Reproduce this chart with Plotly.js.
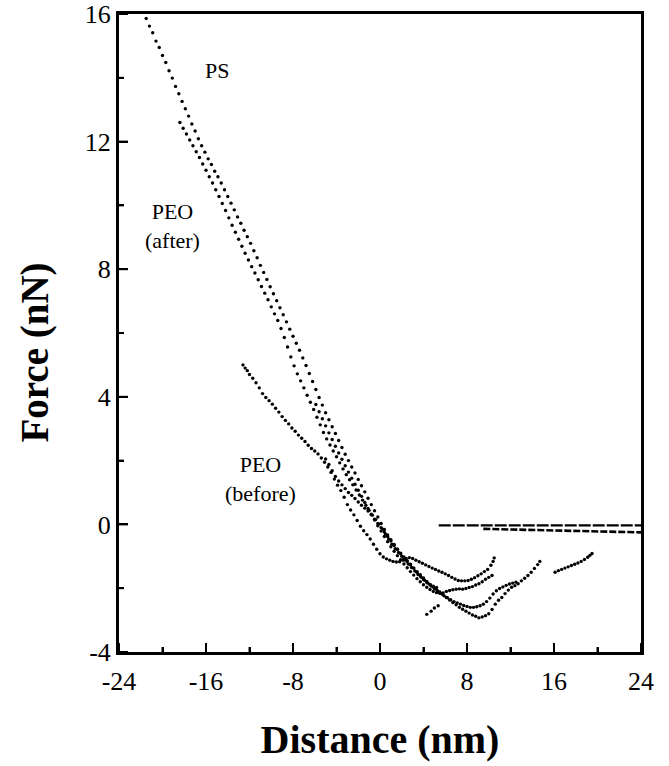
<!DOCTYPE html>
<html>
<head>
<meta charset="utf-8">
<script src="https://cdn.plot.ly/plotly-3.0.1.min.js"></script>
<style>html,body{margin:0;padding:0;background:#fff;}#chart{width:669px;height:766px;}</style>
</head>
<body>
<div id="chart"></div>
<script>
// ---- data ----
var xTickVals = [-24, -16, -8, 0, 8, 16, 24];
var xTickText = ["-24", "-16", "-8", "0", "8", "16", "24"];
var xMinorVals = [-20, -12, -4, 4, 12, 20];
var yTickVals = [-4, 0, 4, 8, 12, 16];
var yTickText = ["-4", "0", "4", "8", "12", "16"];
var yMinorVals = [-2, 2, 6, 10, 14];

// PS
var psX = [-21.5,-21.2,-20.9,-20.6,-20.3,-20.0,-19.7,-19.4,-19.1,-18.8,-18.5,-18.2,-17.9,-17.6,-17.3,-17.0,-16.7,-16.4,-16.1,-15.8,-15.5,-15.2,-14.9,-14.6,-14.3,-14.0,-13.7,-13.4,-13.1,-12.8,-12.5,-12.2,-11.9,-11.6,-11.3,-11.0,-10.7,-10.4,-10.1,-9.8,-9.5,-9.2,-8.9,-8.6,-8.3,-8.0,-7.7,-7.4,-7.1,-6.8,-6.5,-6.2,-5.9,-5.6,-5.3,-5.0,-4.7,-4.4,-4.1,-3.8,-3.5,-3.2,-2.9,-2.6,-2.3,-2.0,-1.7,-1.4,-1.1,-0.8,-0.5,-0.2,0.1,0.4,0.7,1.0,1.3,1.6,1.9,2.2,2.5,2.8,3.1,3.4,3.7,4.0,4.3,4.6,4.9,5.2,5.5,5.8,6.1,6.4,6.7,7.0,7.3,7.6,7.9,8.2,8.5,8.8,9.1,9.4,9.7,10.0,10.3,10.6,10.9,11.2,11.5,11.8,12.1,12.4,12.7,13.0,13.3,13.6,13.9,14.2,14.5,14.7];
var psY = [15.86,15.62,15.41,15.15,14.95,14.70,14.48,14.22,13.99,13.73,13.50,13.26,13.03,12.80,12.55,12.33,12.09,11.87,11.67,11.46,11.28,11.07,10.90,10.70,10.49,10.28,10.07,9.86,9.64,9.44,9.22,9.02,8.81,8.58,8.36,8.12,7.90,7.68,7.45,7.23,7.01,6.79,6.57,6.35,6.12,5.90,5.68,5.46,5.22,4.98,4.73,4.48,4.23,3.98,3.74,3.50,3.28,3.06,2.85,2.63,2.41,2.20,2.00,1.80,1.61,1.41,1.21,1.02,0.82,0.62,0.43,0.23,0.03,-0.16,-0.33,-0.48,-0.63,-0.78,-0.92,-1.06,-1.17,-1.27,-1.37,-1.48,-1.58,-1.68,-1.79,-1.88,-1.96,-2.04,-2.12,-2.21,-2.29,-2.37,-2.45,-2.52,-2.60,-2.66,-2.72,-2.78,-2.84,-2.88,-2.93,-2.90,-2.86,-2.80,-2.67,-2.50,-2.38,-2.29,-2.17,-2.06,-1.97,-1.92,-1.86,-1.77,-1.69,-1.60,-1.50,-1.38,-1.26,-1.16];

// PEO (after)
var peoAfterX = [-18.4,-18.1,-17.8,-17.5,-17.2,-16.9,-16.6,-16.3,-16.0,-15.7,-15.4,-15.1,-14.8,-14.5,-14.2,-13.9,-13.6,-13.3,-13.0,-12.7,-12.4,-12.1,-11.8,-11.5,-11.2,-10.9,-10.6,-10.3,-10.0,-9.7,-9.4,-9.1,-8.8,-8.5,-8.2,-7.9,-7.6,-7.3,-7.0,-6.7,-6.4,-6.1,-5.8,-5.5,-5.2,-4.9,-4.6,-4.3,-4.0,-3.7,-3.4,-3.1,-2.8,-2.5,-2.2,-1.9,-1.6,-1.3,-1.0,-0.7,-0.4,-0.1,0.2,0.5,0.8,1.1,1.4,1.7,2.0,2.3,2.6,2.9,3.2,3.5,3.8,4.1,4.4,4.7,5.0,5.3,5.6,5.9,6.2,6.5,6.8,7.1,7.4,7.7,8.0,8.3,8.6,8.9,9.2,9.5,9.8,10.1,10.4,10.7,11.0,11.3,11.6,11.9,12.2,12.5,16.1,16.4,16.7,17.0,17.3,17.6,17.9,18.2,18.5,18.8,19.1,19.3,19.5];
var peoAfterY = [12.60,12.42,12.24,12.05,11.87,11.68,11.50,11.30,11.10,10.90,10.70,10.49,10.28,10.06,9.84,9.61,9.38,9.16,8.94,8.72,8.50,8.29,8.08,7.88,7.67,7.46,7.25,7.04,6.82,6.60,6.39,6.14,5.86,5.56,5.25,4.97,4.72,4.50,4.28,4.05,3.83,3.60,3.36,3.12,2.88,2.68,2.49,2.30,2.12,1.93,1.74,1.56,1.40,1.24,1.08,0.92,0.76,0.60,0.44,0.29,0.15,0.01,-0.14,-0.30,-0.46,-0.62,-0.76,-0.88,-1.00,-1.12,-1.24,-1.35,-1.46,-1.57,-1.66,-1.75,-1.84,-1.93,-2.01,-2.09,-2.17,-2.24,-2.30,-2.36,-2.42,-2.46,-2.50,-2.54,-2.57,-2.60,-2.60,-2.58,-2.55,-2.50,-2.42,-2.31,-2.18,-2.08,-2.01,-1.96,-1.91,-1.87,-1.84,-1.81,-1.50,-1.45,-1.41,-1.37,-1.33,-1.29,-1.25,-1.21,-1.16,-1.10,-1.03,-0.97,-0.91];

// a further run in the steep band
var runThreeX = [-5.9,-5.6,-5.3,-5.0,-4.7,-4.4,-4.1,-3.8,-3.5,-3.2,-2.9,-2.6,-2.3,-2.0,-1.7,-1.4,-1.1,-0.8,-0.5,-0.2,0.1,0.4,0.7,1.0,1.3,1.6,1.9,2.2,2.5,2.8,3.1,3.4,3.7,4.0,4.3,4.6,4.9,5.2,5.5,5.8,6.1,6.4,6.7,7.0,7.3,7.6,7.9,8.2,8.5,8.8,9.1,9.4,9.7,10.0,10.3];
var runThreeY = [3.76,3.53,3.31,3.09,2.87,2.66,2.45,2.24,2.04,1.84,1.64,1.45,1.26,1.07,0.88,0.69,0.50,0.32,0.14,-0.04,-0.21,-0.38,-0.54,-0.70,-0.84,-0.98,-1.11,-1.24,-1.36,-1.48,-1.59,-1.70,-1.80,-1.89,-1.97,-2.04,-2.10,-2.14,-2.16,-2.15,-2.10,-2.07,-2.05,-2.03,-2.02,-2.03,-2.01,-1.98,-1.95,-1.90,-1.86,-1.80,-1.72,-1.66,-1.60];

// PEO (before)
var peoBeforeX = [-12.6,-12.4,-12.2,-12.0,-11.7,-11.4,-11.1,-10.8,-10.5,-10.2,-9.9,-9.6,-9.3,-9.0,-8.7,-8.4,-8.1,-7.8,-7.5,-7.2,-6.9,-6.6,-6.3,-6.0,-5.7,-5.4,-5.1,-4.8,-4.5,-4.2,-3.9,-3.6,-3.3,-3.0,-2.7,-2.4,-2.1,-1.8,-1.5,-1.2,-0.9,-0.6,-0.3,0.0,0.3,0.6,0.9,1.2,1.5,1.8,2.1,2.4,2.7,3.0,3.3,3.6,3.9,4.2,4.5,4.8,5.1,5.4,5.7,6.0,6.3,6.6,6.9,7.2,7.5,7.8,8.1,8.4,8.7,9.0,9.3,9.6,9.9,10.2,10.4,10.5];
var peoBeforeY = [5.00,4.90,4.82,4.70,4.58,4.44,4.28,4.10,3.98,3.88,3.77,3.64,3.52,3.38,3.26,3.15,3.02,2.92,2.80,2.70,2.60,2.48,2.38,2.30,2.21,2.08,1.95,1.80,1.63,1.42,1.23,1.06,0.85,0.62,0.45,0.30,0.12,-0.06,-0.20,-0.32,-0.46,-0.62,-0.78,-0.92,-1.02,-1.08,-1.12,-1.16,-1.18,-1.17,-1.12,-1.07,-1.04,-1.07,-1.12,-1.17,-1.22,-1.27,-1.32,-1.37,-1.41,-1.46,-1.50,-1.55,-1.60,-1.66,-1.71,-1.76,-1.77,-1.77,-1.76,-1.72,-1.67,-1.61,-1.55,-1.48,-1.41,-1.28,-1.16,-1.05];
var peoBeforeTwoX = [-5.0,-4.7,-4.4,-4.1,-3.8,-3.5,-3.2,-2.9,-2.6,-2.3,-2.0,-1.7,-1.4,-1.1,-0.8,-0.5,-0.2,0.1,0.4,0.7,1.0,1.3,1.6,1.9,2.2,2.5,2.8,3.1,3.4,3.7,4.0,4.3,4.6,4.9,5.2];
var peoBeforeTwoY = [2.05,1.88,1.68,1.50,1.36,1.24,1.12,1.00,0.91,0.81,0.70,0.60,0.51,0.42,0.30,0.16,0.03,-0.10,-0.24,-0.38,-0.52,-0.66,-0.78,-0.90,-1.02,-1.14,-1.25,-1.37,-1.50,-1.62,-1.73,-1.82,-1.89,-1.94,-1.98];

// stray points below the minimum
var tailX = [4.3, 4.7, 5.0, 5.35];
var tailY = [-2.82, -2.72, -2.62, -2.55];

// baselines far from the surface
var baseOneX = [5.4, 24];
var baseOneY = [-0.03, -0.03];
var baseTwoX = [9.5, 24];
var baseTwoY = [-0.14, -0.25];

// ---- chart ----
var SERIF = "Liberation Serif, Times New Roman, serif";
function dots(x, y, name) {
  return {x: x, y: y, name: name, type: "scatter", mode: "markers",
          marker: {color: "#000", size: 3.4, symbol: "circle", line: {width: 0}},
          hoverinfo: "x+y", showlegend: false};
}
var traces = [
  dots(psX, psY, "PS"),
  dots(peoAfterX, peoAfterY, "PEO (after)"),
  dots(runThreeX, runThreeY, "run"),
  dots(peoBeforeX, peoBeforeY, "PEO (before)"),
  dots(peoBeforeTwoX, peoBeforeTwoY, "PEO (before) 2"),
  dots(tailX, tailY, "tail"),
  {x: baseOneX, y: baseOneY, type: "scatter", mode: "lines", showlegend: false,
   line: {color: "#000", width: 2.2, dash: "12px,2px"}},
  {x: baseTwoX, y: baseTwoY, type: "scatter", mode: "lines", showlegend: false,
   line: {color: "#000", width: 2.6, dash: "7px,2px"}}
];

// inward tick marks along the bottom and left edges, placed through the axes
var tickShapes = [];
function xTick(v, len) {
  tickShapes.push({type: "line", xref: "x", yref: "y domain", x0: v, x1: v,
    ysizemode: "pixel", yanchor: 0, y0: 0, y1: len, layer: "above",
    line: {color: "#000", width: 2}});
}
function yTick(v, len) {
  tickShapes.push({type: "line", yref: "y", xref: "x domain", y0: v, y1: v,
    xsizemode: "pixel", xanchor: 0, x0: 0, x1: len, layer: "above",
    line: {color: "#000", width: 2}});
}
xTickVals.forEach(function (v) { xTick(v, 9); });
xMinorVals.forEach(function (v) { xTick(v, 5); });
yTickVals.forEach(function (v) { yTick(v, 9); });
yMinorVals.forEach(function (v) { yTick(v, 5); });

var tickFont = {family: SERIF, size: 26, color: "#000"};
var layout = {
  width: 669, height: 766,
  margin: {l: 119, r: 28, t: 14, b: 114},
  paper_bgcolor: "#fff", plot_bgcolor: "#fff",
  font: {family: SERIF, color: "#000"},
  showlegend: false,
  xaxis: {
    range: [-24, 24], tickmode: "array", tickvals: xTickVals, ticktext: xTickText,
    ticks: "inside", ticklen: 9, tickwidth: 2, tickcolor: "#000",
    minor: {dtick: 4, tick0: 0, ticks: "inside", ticklen: 5, tickwidth: 2, tickcolor: "#000"},
    showline: true, linewidth: 3, linecolor: "#000", mirror: true,
    showgrid: false, zeroline: false,
    tickfont: tickFont, ticklabelstandoff: 4,
    automargin: false,
    title: {text: "<b>Distance (nm)</b>", font: {family: SERIF, size: 40, color: "#000"}, standoff: 30}
  },
  yaxis: {
    range: [-4, 16], tickmode: "array", tickvals: yTickVals, ticktext: yTickText,
    ticks: "inside", ticklen: 9, tickwidth: 2, tickcolor: "#000",
    minor: {dtick: 2, tick0: 0, ticks: "inside", ticklen: 5, tickwidth: 2, tickcolor: "#000"},
    showline: true, linewidth: 3, linecolor: "#000", mirror: true,
    showgrid: false, zeroline: false,
    tickfont: tickFont,
    automargin: false,
    title: {text: "<b>Force (nN)</b>&nbsp;&nbsp;&nbsp;&nbsp;", font: {family: SERIF, size: 39, color: "#000"}, standoff: 25}
  },
  shapes: tickShapes,
  annotations: [
    {x: -14.96, y: 14.23, text: "PS", showarrow: false, xref: "x", yref: "y",
     font: {family: SERIF, size: 22, color: "#000"}},
    {x: -19.1, y: 9.34, text: "PEO<br>(after)", showarrow: false, xref: "x", yref: "y",
     font: {family: SERIF, size: 22, color: "#000"}},
    {x: -11.0, y: 1.41, text: "PEO<br>(before)", showarrow: false, xref: "x", yref: "y",
     font: {family: SERIF, size: 22, color: "#000"}}
  ]
};

Plotly.newPlot("chart", traces, layout, {displayModeBar: false});
</script>
</body>
</html>
